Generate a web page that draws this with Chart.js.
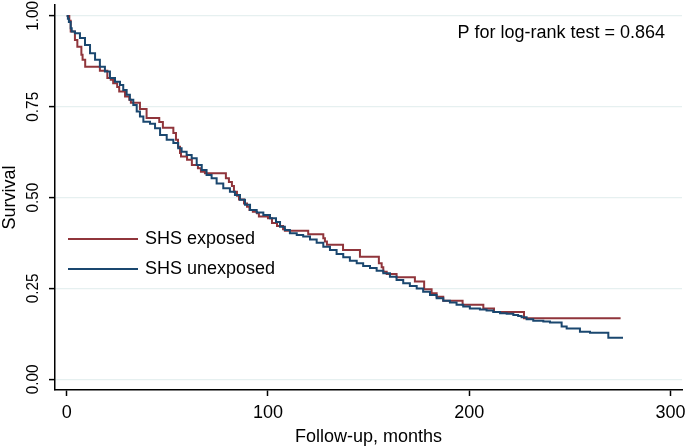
<!DOCTYPE html>
<html>
<head>
<meta charset="utf-8">
<script src="https://cdn.jsdelivr.net/npm/chart.js@4"></script>
<style>
  html, body { margin: 0; padding: 0; background: #fff; }
  #wrap { width: 685px; height: 447px; }
</style>
</head>
<body>
<div id="wrap"><canvas id="canvas"></canvas></div>
<script>
// Kaplan-Meier curves (months, survival)
const redTime = [0, 1.3, 2.0, 4.1, 5.3, 7.3, 7.9, 9.2, 16.5, 20.2, 21.9, 23.1, 25.1, 26.1, 29.0, 31.1, 31.9, 36.4, 39.7, 46.0, 47.8, 53.0, 54.3, 55.3, 56.3, 56.8, 59.8, 62.2, 65.2, 66.7, 68.7, 79.1, 80.6, 82.1, 83.1, 84.6, 85.6, 88.1, 89.6, 90.8, 92.5, 94.5, 95.5, 100.0, 102.0, 104.5, 107.5, 108.4, 120.0, 127.5, 128.3, 129.3, 137.3, 145.7, 155.1, 156.5, 157.3, 159.0, 163.9, 173.0, 177.6, 181.3, 183.8, 187.1, 196.7, 207.0, 212.3, 227.2, 275.2];
const redSurv = [1.0, 0.987, 0.957, 0.934, 0.915, 0.893, 0.879, 0.860, 0.849, 0.829, 0.824, 0.815, 0.804, 0.792, 0.778, 0.769, 0.761, 0.744, 0.719, 0.708, 0.692, 0.678, 0.659, 0.640, 0.623, 0.613, 0.604, 0.590, 0.581, 0.571, 0.567, 0.553, 0.543, 0.532, 0.516, 0.505, 0.495, 0.484, 0.475, 0.466, 0.461, 0.457, 0.448, 0.443, 0.430, 0.422, 0.413, 0.409, 0.399, 0.388, 0.379, 0.370, 0.356, 0.337, 0.319, 0.308, 0.296, 0.290, 0.281, 0.269, 0.248, 0.237, 0.227, 0.216, 0.205, 0.195, 0.185, 0.168, 0.168];

const blueTime = [0, 0.6, 1.1, 2.0, 2.5, 4.1, 6.6, 9.1, 11.6, 14.1, 16.5, 19.0, 21.5, 24.0, 26.5, 28.1, 29.8, 31.4, 33.1, 34.8, 36.4, 38.1, 41.4, 43.9, 46.4, 49.7, 53.0, 55.4, 57.1, 59.6, 62.1, 64.6, 67.1, 69.5, 72.0, 74.5, 77.8, 81.1, 83.6, 86.1, 88.6, 91.1, 94.4, 97.7, 101.0, 104.0, 106.0, 108.4, 110.9, 114.3, 117.5, 120.9, 124.2, 127.5, 130.8, 134.1, 137.4, 140.7, 144.1, 147.3, 150.7, 154.0, 157.3, 160.6, 163.9, 167.2, 170.5, 173.9, 177.1, 180.5, 183.8, 187.1, 190.4, 193.7, 197.0, 200.3, 205.3, 208.6, 211.9, 215.3, 218.6, 221.9, 224.3, 226.0, 228.5, 231.8, 236.8, 240.1, 245.9, 248.4, 255.0, 260.0, 269.1, 276.4];
const blueSurv = [1.0, 0.992, 0.983, 0.966, 0.957, 0.952, 0.939, 0.920, 0.897, 0.879, 0.860, 0.847, 0.829, 0.819, 0.810, 0.796, 0.783, 0.769, 0.755, 0.737, 0.723, 0.709, 0.703, 0.691, 0.672, 0.659, 0.650, 0.636, 0.626, 0.617, 0.608, 0.590, 0.576, 0.562, 0.553, 0.539, 0.526, 0.516, 0.507, 0.494, 0.480, 0.466, 0.459, 0.452, 0.443, 0.433, 0.420, 0.411, 0.402, 0.397, 0.393, 0.385, 0.376, 0.365, 0.356, 0.345, 0.336, 0.326, 0.319, 0.312, 0.306, 0.299, 0.292, 0.282, 0.273, 0.264, 0.257, 0.250, 0.241, 0.232, 0.223, 0.216, 0.211, 0.205, 0.200, 0.195, 0.192, 0.189, 0.185, 0.182, 0.180, 0.177, 0.174, 0.171, 0.165, 0.161, 0.159, 0.156, 0.145, 0.140, 0.131, 0.128, 0.114, 0.114];

const xTicks = [0, 100, 200, 300];
const yTicks = [0, 0.25, 0.5, 0.75, 1.0];
const yTickLabels = ["0.00", "0.25", "0.50", "0.75", "1.00"];
const seriesNames = ["SHS exposed", "SHS unexposed"];
const pText = "P for log-rank test = 0.864";

const RED = "#90353b";
const BLUE = "#1a476f";
const FONT = "'Liberation Sans', Arial, sans-serif";

function toPoints(t, s) {
  return t.map((v, i) => ({ x: v, y: s[i] }));
}

// stata style texts: rotated y labels, axis titles, legend in plot
const stataText = {
  id: "stataText",
  afterDraw(chart) {
    const ctx = chart.ctx;
    const area = chart.chartArea;
    const y = chart.scales.y;
    ctx.save();
    ctx.fillStyle = "#000";
    ctx.textAlign = "center";
    ctx.textBaseline = "middle";

    ctx.font = "17px " + FONT;
    yTicks.forEach((v, i) => {
      const py = y.getPixelForValue(v);
      ctx.save();
      ctx.translate(33, py);
      ctx.rotate(-Math.PI / 2);
      ctx.scale(0.9, 1);
      ctx.fillText(yTickLabels[i], 0, 0);
      ctx.restore();
    });

    ctx.font = "18px " + FONT;
    ctx.save();
    ctx.translate(10, (area.top + area.bottom) / 2);
    ctx.rotate(-Math.PI / 2);
    ctx.fillText("Survival", 0, 0);
    ctx.restore();

    ctx.fillText("Follow-up, months", (area.left + area.right) / 2, 437);

    // legend
    const legendY = [239, 269];
    const colors = [RED, BLUE];
    ctx.textAlign = "left";
    seriesNames.forEach((name, i) => {
      ctx.strokeStyle = colors[i];
      ctx.lineWidth = 2;
      ctx.beginPath();
      ctx.moveTo(68, legendY[i]);
      ctx.lineTo(138, legendY[i]);
      ctx.stroke();
      ctx.fillText(name, 145, legendY[i]);
    });

    ctx.textAlign = "right";
    ctx.fillText(pText, 665, 33);
    ctx.restore();
  }
};

new Chart(document.getElementById("canvas"), {
  type: "line",
  data: {
    datasets: [
      {
        label: seriesNames[1],
        data: toPoints(blueTime, blueSurv),
        borderColor: BLUE,
        borderWidth: 2,
        stepped: true,
        pointRadius: 0,
        fill: false,
      },
      {
        label: seriesNames[0],
        data: toPoints(redTime, redSurv),
        borderColor: RED,
        borderWidth: 2,
        stepped: true,
        pointRadius: 0,
        fill: false,
      },
    ],
  },
  options: {
    responsive: true,
    maintainAspectRatio: false,
    animation: false,
    layout: { padding: { top: 5, right: 3, left: 0, bottom: 0 } },
    plugins: {
      legend: { display: false },
      tooltip: { enabled: false },
    },
    scales: {
      x: {
        type: "linear",
        min: -5.8,
        max: 305.7,
        afterBuildTicks: (s) => { s.ticks = xTicks.map((v) => ({ value: v })); },
        afterFit: (s) => { s.height = 57; s.paddingLeft = 0; s.paddingRight = 0; },
        grid: { drawOnChartArea: false, drawTicks: true, tickLength: 6, tickColor: "#000", tickWidth: 1.5 },
        border: { color: "#000", width: 1.5 },
        ticks: { color: "#000", font: { family: FONT, size: 18 }, padding: 6, maxRotation: 0 },
      },
      y: {
        type: "linear",
        min: -0.0295,
        max: 1.03,
        afterBuildTicks: (s) => { s.ticks = yTicks.map((v) => ({ value: v })); },
        afterFit: (s) => { s.width = 55; s.paddingTop = 0; s.paddingBottom = 0; },
        grid: { color: "#e6f0f0", lineWidth: 1.2, drawTicks: true, tickLength: 6, tickColor: "#000", tickWidth: 1.5 },
        border: { color: "#000", width: 1.5 },
        ticks: { display: false },
      },
    },
  },
  plugins: [stataText],
});
</script>
</body>
</html>
